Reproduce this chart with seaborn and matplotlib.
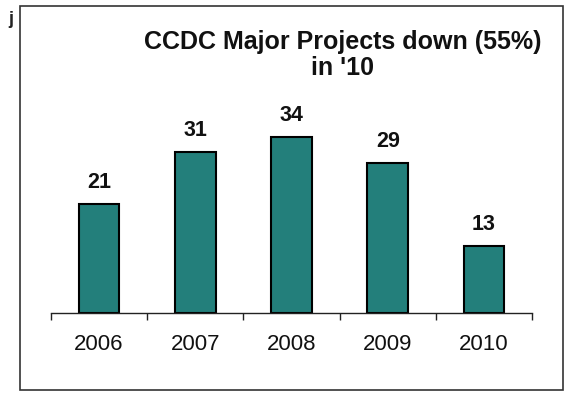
import matplotlib
matplotlib.use("Agg")
import matplotlib.pyplot as plt
import seaborn as sns
import pandas as pd
from matplotlib.patches import Rectangle
from matplotlib.ticker import FixedLocator

years = ["2006", "2007", "2008", "2009", "2010"]
projects = [21, 31, 34, 29, 13]
title = "CCDC Major Projects down (55%)\nin '10"

sns.set_theme(style="white")
plt.rcParams['font.family'] = ['Liberation Sans', 'DejaVu Sans']

df = pd.DataFrame({"year": years, "projects": projects})

W, H = 573, 394
fig = plt.figure(figsize=(W / 100, H / 100), dpi=100)
fig.patch.set_facecolor("white")

# outer frame
fig.patches.append(Rectangle((20 / W, 1 - 390 / H), (563 - 20) / W, (390 - 6) / H,
                             transform=fig.transFigure, fill=False,
                             edgecolor="#333333", linewidth=1.2))

ax = fig.add_axes([51 / W, 1 - 313 / H, (532 - 51) / W, (313 - 20) / H])
sns.barplot(data=df, x="year", y="projects", color="#237f7b", width=0.42,
            edgecolor="black", linewidth=1.5, saturation=1, ax=ax)
ax.set_xlim(-0.5, 4.5)
ax.set_ylim(0, 293 / 5.18)

for i, v in enumerate(projects):
    ax.annotate(str(v), (i, v), xytext=(0, 8), textcoords="offset points",
                ha="center", va="bottom", fontsize=15.5, fontweight="bold",
                color="#111111")

for s in ["left", "right", "top"]:
    ax.spines[s].set_visible(False)
ax.spines["bottom"].set_color("#222222")
ax.spines["bottom"].set_linewidth(1.0)
ax.set_yticks([])
ax.set_xlabel("")
ax.set_ylabel("")
ax.tick_params(axis="x", which="major", length=0, pad=15, labelsize=16,
               labelcolor="#111111")
ax.xaxis.set_minor_locator(FixedLocator([-0.5, 0.5, 1.5, 2.5, 3.5, 4.5]))
ax.tick_params(axis="x", which="minor", length=5, width=1.0, color="#222222",
               direction="out", bottom=True)
ax.patch.set_alpha(0)

fig.text(343 / W, 1 - 55 / H, title, ha="center", va="center", fontsize=18,
         fontweight="bold", color="#111111", linespacing=1.1)
fig.text(8 / W, 1 - 20 / H, "j", ha="left", va="center", fontsize=13,
         fontweight="bold", color="#222222")

fig.savefig("out.png", dpi=100)
